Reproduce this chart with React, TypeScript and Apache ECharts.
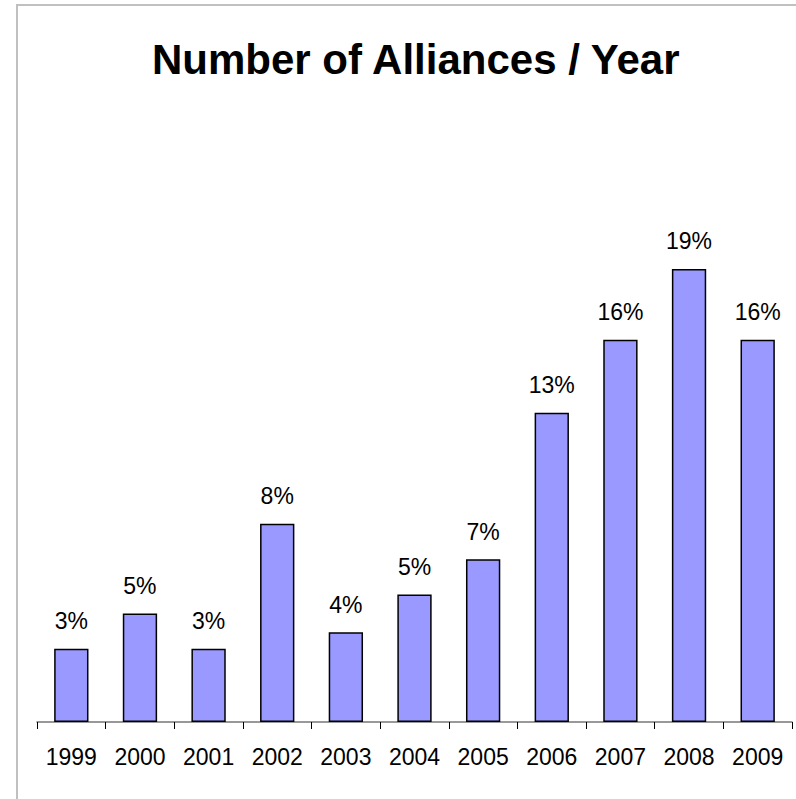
import React, { useEffect, useRef } from "react";
import * as echarts from "echarts";

const years = ["1999", "2000", "2001", "2002", "2003", "2004", "2005", "2006", "2007", "2008", "2009"];
const shares = [3.1, 4.6, 3.1, 8.4, 3.8, 5.4, 6.9, 13.1, 16.2, 19.2, 16.2];
const titleText = "Number of Alliances / Year";

export default function App() {
  const ref = useRef<HTMLDivElement>(null);
  useEffect(() => {
    document.body.style.margin = "0";
    const chart = echarts.init(ref.current!, null, { renderer: "svg" });
    chart.setOption({
      animation: false,
      backgroundColor: "#ffffff",
      title: {
        text: titleText,
        left: 147,
        top: 33,
        textStyle: { fontFamily: "Liberation Sans, Arial, sans-serif", fontWeight: "bold", fontSize: 42, color: "#000" },
      },
      graphic: [
        {
          type: "rect",
          shape: { x: 17, y: 5, width: 820, height: 840 },
          style: { fill: "none", stroke: "#c0c0c0", lineWidth: 2 },
          silent: true,
        },
      ],
      grid: { left: 37, right: 4, top: 132, bottom: 77, containLabel: false },
      xAxis: {
        type: "category",
        data: years,
        boundaryGap: true,
        axisLine: { lineStyle: { color: "#777", width: 1.5 } },
        axisTick: { show: true, interval: 0, alignWithLabel: false, length: 7, lineStyle: { color: "#000", width: 1 } },
        axisLabel: { interval: 0, margin: 23, fontFamily: "Liberation Sans, Arial, sans-serif", fontSize: 23, color: "#000" },
      },
      yAxis: { type: "value", min: 0, max: 25, show: false, splitLine: { show: false } },
      series: [
        {
          type: "bar",
          data: shares,
          barWidth: "50%",
          itemStyle: { color: "#9999ff", borderColor: "#000", borderWidth: 1.5 },
          label: {
            show: true,
            position: "top",
            distance: 16,
            fontFamily: "Liberation Sans, Arial, sans-serif",
            fontSize: 23,
            color: "#000",
            formatter: (p: any) => Math.round(p.value) + "%",
          },
        },
      ],
    });
    return () => chart.dispose();
  }, []);
  return <div ref={ref} style={{ width: 796, height: 799 }} />;
}
